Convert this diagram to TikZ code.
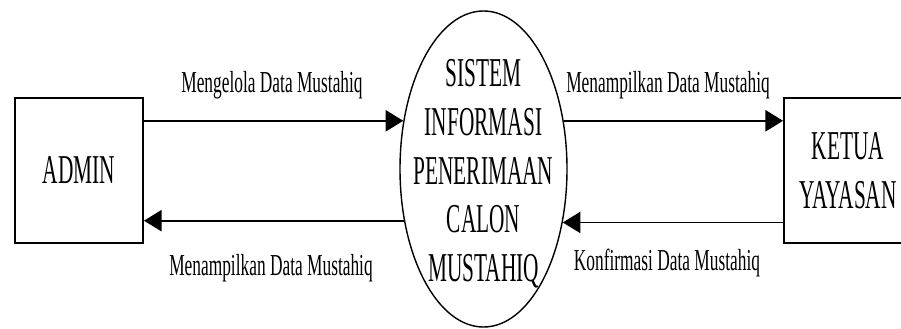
\documentclass[tikz,border=0pt]{standalone}
\usepackage{fontspec}
\setmainfont[FakeStretch=0.57]{Liberation Serif}
\newfontfamily\bigfont[FakeStretch=0.52]{Liberation Serif}
\usetikzlibrary{shapes.geometric,arrows.meta,positioning}

\begin{document}
\begin{tikzpicture}[x=0.03cm,y=0.03cm,>={Triangle[length=15pt,width=18pt]}]
%===styles===
\tikzset{entity/.style={draw,line width=1.6pt,minimum width=3.84cm,minimum height=4.35cm,inner sep=0pt,align=center,font=\bigfont\fontsize{35}{41.6}\selectfont},
 process/.style={draw,ellipse,line width=1.2pt,minimum width=5.01cm,minimum height=9.48cm,inner sep=0pt},
 proctext/.style={inner sep=0pt,align=center,font=\bigfont\fontsize{35}{41.6}\selectfont},
 flow/.style={->,line width=1.6pt},
 lbl/.style={anchor=base,inner sep=0pt,font=\fontsize{26}{30}\selectfont}}
\useasboundingbox (0,0) rectangle (901,328);
%===entities===
\node[entity] (admin) at (79,157.5) {ADMIN};
\node[entity] (ketua) at (848,157.5) {KETUA\\YAYASAN};
%===process===
\node[process] (sis) at (483.5,159) {};
\node[proctext] (sistxt) at (483.5,154) {SISTEM\\INFORMASI\\PENERIMAAN\\CALON\\MUSTAHIQ};
%===flows===
\draw[flow] (sis.149 -| admin.east) -- (sis.149);
\draw[flow] (sis.213.5) -- (sis.213.5 -| admin.east);
\draw[flow] (sis.31) -- (sis.31 -| ketua.west);
\draw[flow] (sis.326.5 -| ketua.west) -- (sis.326.5);
%===labels===
\node[lbl] (l1) at (272,235) {Mengelola Data Mustahiq};
\node[lbl] (l2) at (271,53) {Menampilkan Data Mustahiq};
\node[lbl] (l3) at (668,235) {Menampilkan Data Mustahiq};
\node[lbl] (l4) at (667,58) {Konfirmasi Data Mustahiq};
\end{tikzpicture}
\end{document}
